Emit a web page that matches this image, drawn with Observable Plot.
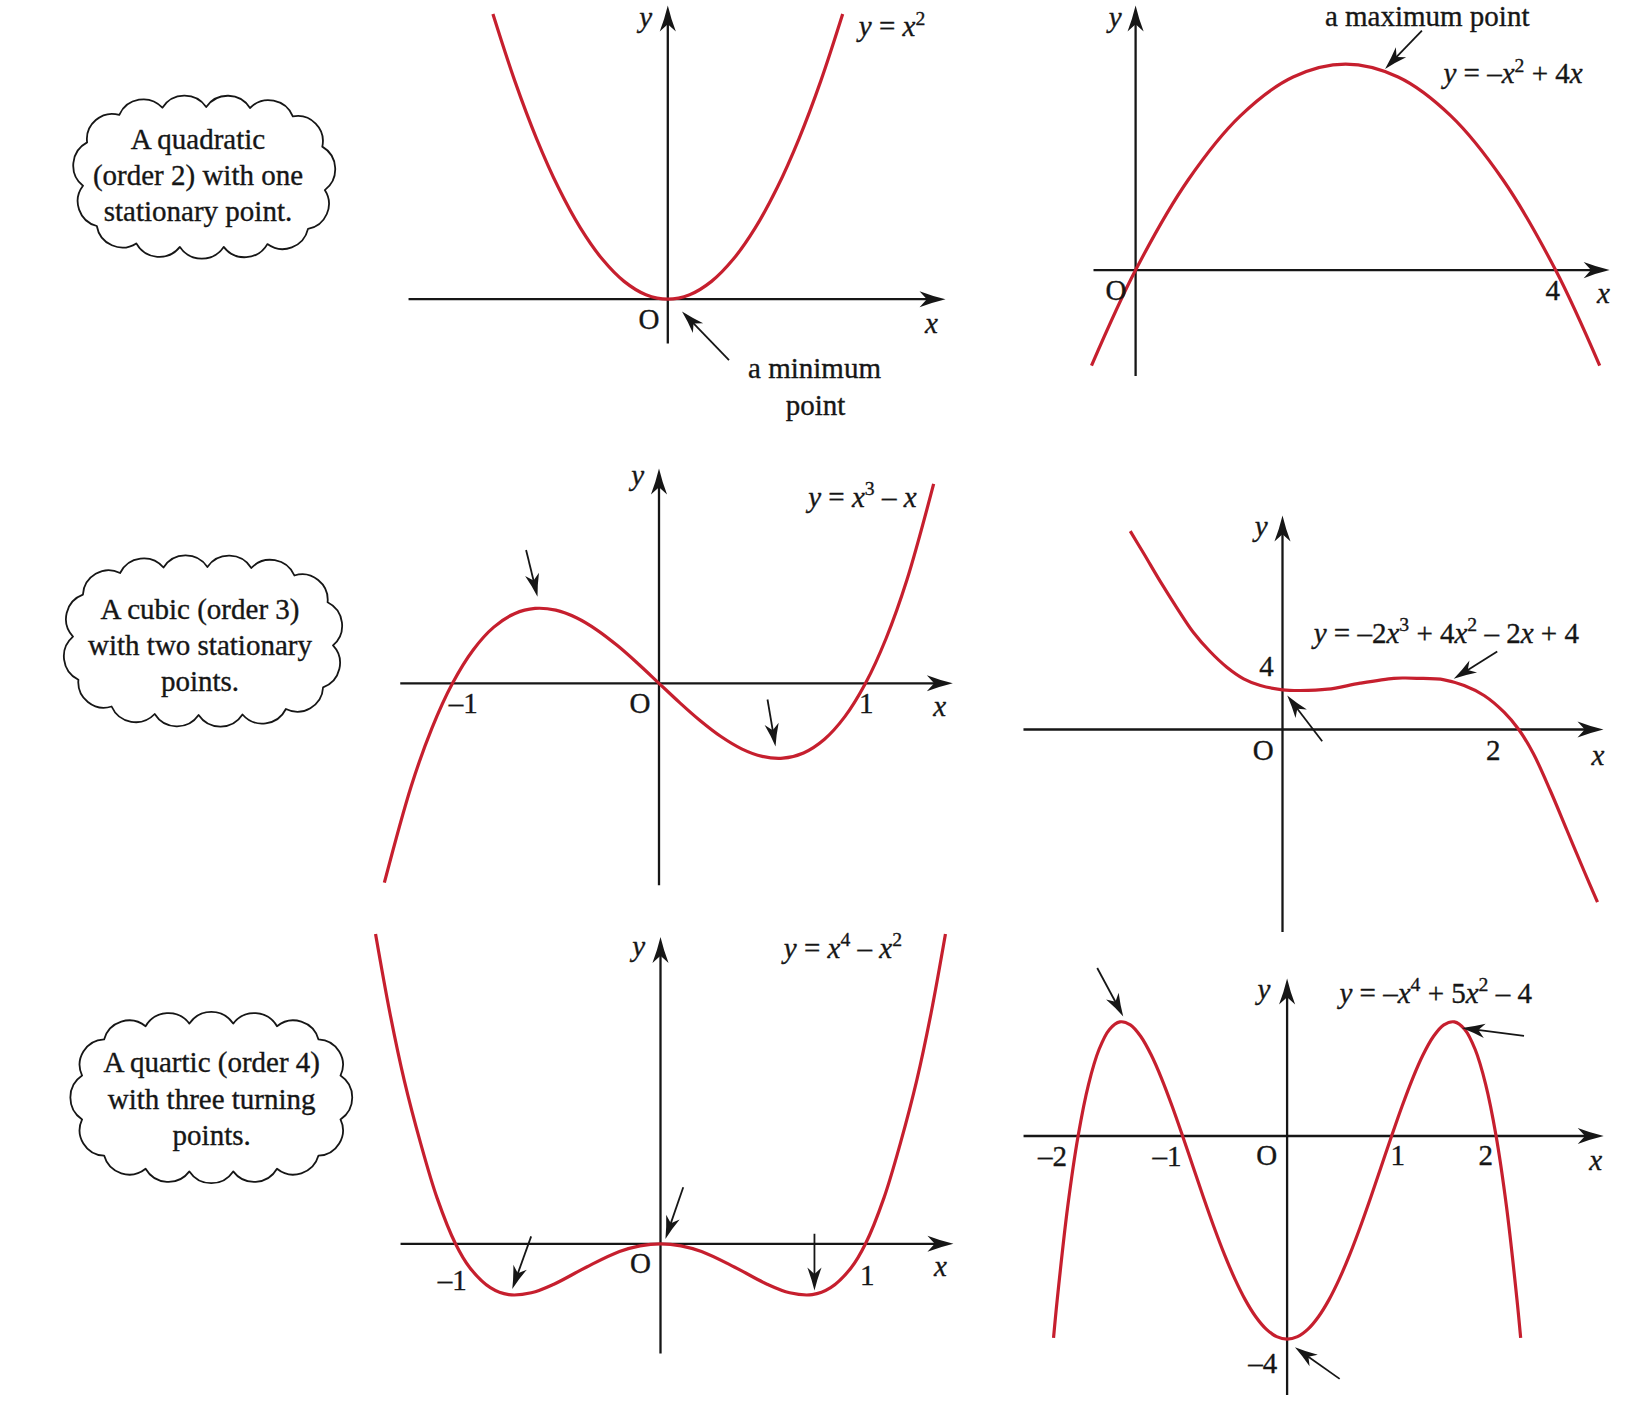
<!DOCTYPE html>
<html>
<head>
<meta charset="utf-8">
<script src="https://cdn.jsdelivr.net/npm/d3@7"></script>
<script src="https://cdn.jsdelivr.net/npm/@observablehq/plot@0.6"></script>
<style>
  html, body { margin: 0; padding: 0; background: #fff; }
  #page { position: relative; width: 1632px; height: 1404px; overflow: hidden; background: #fff; }
  .panel { position: absolute; }
</style>
</head>
<body>
<div id="page"></div>
<script>
// ================= DATA =================
// Panel 1: y = x^2
const p1CurveX = [-1.6,-1.4,-1.2,-1.0,-0.8,-0.6,-0.4,-0.2,0,0.2,0.4,0.6,0.8,1.0,1.2,1.4,1.6];
const p1CurveY = [2.56,1.96,1.44,1.0,0.64,0.36,0.16,0.04,0,0.04,0.16,0.36,0.64,1.0,1.44,1.96,2.56];
const p1AxisX = [-2.372, 2.541];
const p1AxisY = [-0.397, 2.636];
const p1LabelText = ["_y_", "_y_ = _x_^2^", "O", "_x_", "a minimum", "point"];
const p1LabelX = [-0.202, 2.052, -0.173, 2.411, 1.342, 1.351];
const p1LabelY = [2.530, 2.442, -0.180, -0.223, -0.621, -0.952];
const p1Pointers = [[0.560, -0.547, 0.130, -0.111]];

// Panel 2: y = -x^2 + 4x
const p2CurveX = [-0.42,0,0.5,1,1.5,2,2.5,3,3.5,4,4.42];
const p2CurveY = [-1.856,0,1.75,3,3.75,4,3.75,3,1.75,0,-1.856];
const p2AxisX = [-0.401, 4.515];
const p2AxisY = [-2.054, 5.138];
const p2LabelText = ["_y_", "a maximum point", "_y_ = –_x_^2^ + 4_x_", "O", "4", "_x_"];
const p2LabelX = [-0.194, 2.777, 3.595, -0.187, 3.972, 4.456];
const p2LabelY = [4.895, 4.920, 3.810, -0.402, -0.402, -0.466];
const p2Pointers = [[2.727, 4.652, 2.376, 3.907]];

// Panel 3: y = x^3 - x
const p3CurveX = [-1.33,-1.2,-1.1,-1.0,-0.9,-0.8,-0.7,-0.6,-0.5,-0.4,-0.3,-0.2,-0.1,0,0.1,0.2,0.3,0.4,0.5,0.6,0.7,0.8,0.9,1.0,1.1,1.2,1.33];
const p3CurveY = [-1.0226,-0.528,-0.231,0,0.171,0.288,0.357,0.384,0.375,0.336,0.273,0.192,0.099,0,-0.099,-0.192,-0.273,-0.336,-0.375,-0.384,-0.357,-0.288,-0.171,0,0.231,0.528,1.0226];
const p3AxisX = [-1.253, 1.423];
const p3AxisY = [-1.035, 1.1015];
const p3LabelText = ["_y_", "_y_ = _x_^3^ – _x_", "–1", "O", "1", "_x_"];
const p3LabelX = [-0.103, 0.985, -0.948, -0.092, 1.004, 1.359];
const p3LabelY = [1.064, 0.952, -0.103, -0.103, -0.103, -0.120];
const p3Pointers = [[-0.6436, 0.6836, -0.5884, 0.4441], [0.5254, -0.0831, 0.5642, -0.3241]];

// Panel 4: y = -2x^3 + 4x^2 - 2x + 4 (sketch)
const p4CurveX = [-1.45,-1.32,-1.16,-1.00,-0.85,-0.69,-0.53,-0.37,-0.21,0,0.17,0.43,0.74,1.06,1.17,1.28,1.54,1.73,1.92,2.11,2.25,2.39,2.55,2.71,2.87,3.00];
const p4CurveY = [19.83,17.57,14.73,12.07,9.73,7.80,6.23,5.07,4.40,3.97,3.90,4.03,4.63,5.12,5.15,5.12,4.97,4.40,3.40,1.73,0,-2.43,-6.10,-10.10,-14.10,-17.27];
const p4AxisX = [-2.467, 3.057];
const p4AxisY = [-20.25, 21.4];
const p4LabelText = ["_y_", "_y_ = –2_x_^3^ + 4_x_^2^ – 2_x_ + 4", "4", "O", "2", "_x_"];
const p4LabelX = [-0.203, 1.560, -0.152, -0.184, 2.007, 3.003];
const p4LabelY = [20.23, 9.57, 6.23, -2.10, -2.17, -2.60];
const p4Pointers = [[2.045, 7.80, 1.631, 5.07], [0.378, -1.17, 0.045, 3.40]];

// Panel 5: y = x^4 - x^2 (arms)
const p5CurveX = [-1.39,-1.32,-1.25,-1.17,-1.09,-1.00,-0.93,-0.83,-0.74,-0.63,-0.52,-0.36,-0.20,-0.10,0,0.10,0.20,0.36,0.52,0.63,0.74,0.83,0.93,1.00,1.09,1.17,1.25,1.32,1.39];
const p5CurveY = [1.511,1.126,0.797,0.490,0.224,0,-0.117,-0.214,-0.248,-0.239,-0.197,-0.113,-0.038,-0.010,0,-0.010,-0.038,-0.113,-0.197,-0.239,-0.248,-0.214,-0.117,0,0.224,0.490,0.797,1.126,1.511];
const p5AxisX = [-1.268, 1.429];
const p5AxisY = [-0.535, 1.496];
const p5LabelText = ["_y_", "_y_ = _x_^4^ – _x_^2^", "–1", "O", "1", "_x_"];
const p5LabelX = [-0.106, 0.890, -1.016, -0.098, 1.008, 1.366];
const p5LabelY = [1.450, 1.439, -0.179, -0.098, -0.155, -0.114];
const p5Pointers = [[-0.631, 0.036, -0.723, -0.220], [0.111, 0.276, 0.024, 0.024], [0.751, 0.049, 0.751, -0.228]];

// Panel 6: y = -x^4 + 5x^2 - 4
const p6CurveX = [-2.235,-2.2,-2.1,-2.0,-1.9,-1.8,-1.7,-1.6,-1.5,-1.4,-1.3,-1.2,-1.1,-1.0,-0.9,-0.8,-0.7,-0.6,-0.5,-0.4,-0.3,-0.2,-0.1,0,0.1,0.2,0.3,0.4,0.5,0.6,0.7,0.8,0.9,1.0,1.1,1.2,1.3,1.4,1.5,1.6,1.7,1.8,1.9,2.0,2.1,2.2,2.235];
const p6CurveY = [-3.976,-3.2256,-1.3981,0,1.0179,1.7024,2.0979,2.2464,2.1875,1.9584,1.5939,1.1264,0.5859,0,-0.6061,-1.2096,-1.7901,-2.3296,-2.8125,-3.2256,-3.5581,-3.8016,-3.9501,-4,-3.9501,-3.8016,-3.5581,-3.2256,-2.8125,-2.3296,-1.7901,-1.2096,-0.6061,0,0.5859,1.1264,1.5939,1.9584,2.1875,2.2464,2.0979,1.7024,1.0179,0,-1.3981,-3.2256,-3.976];
const p6AxisX = [-2.522, 3.03];
const p6AxisY = [-5.10, 3.10];
const p6LabelText = ["_y_", "_y_ = –_x_^4^ + 5_x_^2^ – 4", "–2", "–1", "O", "1", "2", "_x_", "–4"];
const p6LabelX = [-0.221, 1.422, -2.245, -1.149, -0.195, 1.060, 1.902, 2.953, -0.233];
const p6LabelY = [2.87, 2.805, -0.413, -0.413, -0.394, -0.394, -0.394, -0.48, -4.486];
const p6Pointers = [[-1.817, 3.307, -1.568, 2.354], [2.267, 1.970, 1.673, 2.128], [0.503, -4.781, 0.075, -4.157]];

// Cloud captions
const cloud1Lines = ["A quadratic", "(order 2) with one", "stationary point."];
const cloud2Lines = ["A cubic (order 3)", "with two stationary", "points."];
const cloud3Lines = ["A quartic (order 4)", "with three turning", "points."];

// ================= STYLE / LAYOUT =================
const INK = "#161616";
const RED = "#c61f2e";
const FONT = "'Liberation Serif', 'Times New Roman', serif";
const FS = 29;

const panels = [
  {left: 380, top: 0, width: 600, height: 420, ox: 667.3, oy: 298.7, ux: 109.3, uy: 111.4,
   cx: p1CurveX, cy: p1CurveY, ax: p1AxisX, ay: p1AxisY, lt: p1LabelText, lx: p1LabelX, ly: p1LabelY, ptr: p1Pointers},
  {left: 1000, top: 0, width: 632, height: 400, ox: 1135.1, oy: 269.6, ux: 105, uy: 51.5,
   cx: p2CurveX, cy: p2CurveY, ax: p2AxisX, ay: p2AxisY, lt: p2LabelText, lx: p2LabelX, ly: p2LabelY, ptr: p2Pointers},
  {left: 340, top: 440, width: 640, height: 470, ox: 658.5, oy: 682.8, ux: 206.5, uy: 195,
   cx: p3CurveX, cy: p3CurveY, ax: p3AxisX, ay: p3AxisY, lt: p3LabelText, lx: p3LabelX, ly: p3LabelY, ptr: p3Pointers},
  {left: 990, top: 470, width: 642, height: 480, ox: 1282, oy: 729, ux: 105, uy: 10,
   cx: p4CurveX, cy: p4CurveY, ax: p4AxisX, ay: p4AxisY, lt: p4LabelText, lx: p4LabelX, ly: p4LabelY, ptr: p4Pointers},
  {left: 340, top: 900, width: 640, height: 470, ox: 660, oy: 1243.3, ux: 205, uy: 205,
   cx: p5CurveX, cy: p5CurveY, ax: p5AxisX, ay: p5AxisY, lt: p5LabelText, lx: p5LabelX, ly: p5LabelY, ptr: p5Pointers},
  {left: 990, top: 940, width: 642, height: 464, ox: 1286.6, oy: 1135.5, ux: 104.5, uy: 50.8,
   cx: p6CurveX, cy: p6CurveY, ax: p6AxisX, ay: p6AxisY, lt: p6LabelText, lx: p6LabelX, ly: p6LabelY, ptr: p6Pointers}
];

const clouds = [
  {cx: 204, cy: 177, a: 134, b: 83, n: 15, phase: 0.3, tx: 198, ty: [140, 176, 211.5], lines: cloud1Lines},
  {cx: 203, cy: 641, a: 143, b: 87, n: 16, phase: 0.1, tx: 200, ty: [610, 646, 682], lines: cloud2Lines},
  {cx: 211.3, cy: 1097.5, a: 143, b: 87, n: 16, phase: 0.5, tx: 211.7, ty: [1063, 1100, 1136], lines: cloud3Lines}
];

// Barbed, filled arrowhead with its tip at the anchor point, pointing up before rotation
const arrowHead = {
  draw(ctx, size) {
    const L = Math.sqrt(size / Math.PI);
    const w = 0.31 * L;
    ctx.moveTo(0, 0);
    ctx.quadraticCurveTo(-0.12 * L, 0.5 * L, -w, L);
    ctx.lineTo(0, 0.72 * L);
    ctx.lineTo(w, L);
    ctx.quadraticCurveTo(0.12 * L, 0.5 * L, 0, 0);
    ctx.closePath();
  }
};

// Turn "_y_ = _x_^2^" markup into italic / superscript tspans
function richify(svg, fs) {
  svg.querySelectorAll("text").forEach(t => {
    const s = t.textContent;
    if (!/[_^]/.test(s)) return;
    while (t.firstChild) t.removeChild(t.firstChild);
    let ital = false, sup = false, buf = "", cur = 0;
    const flush = () => {
      if (!buf) return;
      const ts = document.createElementNS("http://www.w3.org/2000/svg", "tspan");
      ts.textContent = buf;
      if (ital) ts.setAttribute("font-style", "italic");
      if (sup) ts.setAttribute("font-size", (fs * 0.68).toFixed(1));
      const target = sup ? -0.40 * fs : 0;
      if (target !== cur) { ts.setAttribute("dy", (target - cur).toFixed(1)); cur = target; }
      t.appendChild(ts);
      buf = "";
    };
    for (const ch of s) {
      if (ch === "_") { flush(); ital = !ital; }
      else if (ch === "^") { flush(); sup = !sup; }
      else buf += ch;
    }
    flush();
  });
}

const page = document.getElementById("page");

// ---- clouds (decorative frames) ----
function cloudPath(c) {
  const M = 2000, p = 3.2, pts = [];
  for (let i = 0; i <= M; i++) {
    const t = (i / M) * 2 * Math.PI, co = Math.cos(t), si = Math.sin(t);
    pts.push([c.cx + (c.a - 13) * Math.sign(co) * Math.pow(Math.abs(co), 2 / p),
              c.cy + (c.b - 13) * Math.sign(si) * Math.pow(Math.abs(si), 2 / p)]);
  }
  const cum = [0];
  for (let i = 1; i <= M; i++) cum.push(cum[i - 1] + Math.hypot(pts[i][0] - pts[i - 1][0], pts[i][1] - pts[i - 1][1]));
  const P = cum[M], nodes = [];
  let j = 0;
  for (let k = 0; k < c.n; k++) {
    const L = ((k + c.phase) / c.n) * P;
    while (j < M - 1 && cum[j + 1] < L) j++;
    const f = (L - cum[j]) / (cum[j + 1] - cum[j] || 1);
    nodes.push([pts[j][0] + f * (pts[j + 1][0] - pts[j][0]), pts[j][1] + f * (pts[j + 1][1] - pts[j][1])]);
  }
  let d = `M${nodes[0][0].toFixed(1)},${nodes[0][1].toFixed(1)}`;
  for (let k = 0; k < c.n; k++) {
    const A = nodes[k], B = nodes[(k + 1) % c.n];
    const r = Math.hypot(B[0] - A[0], B[1] - A[1]) * 0.6;
    d += `A${r.toFixed(1)},${r.toFixed(1)} 0 0 1 ${B[0].toFixed(1)},${B[1].toFixed(1)}`;
  }
  return d + "Z";
}

const csvg = d3.select(page).append("svg")
  .attr("width", 1632).attr("height", 1404)
  .style("position", "absolute").style("left", "0px").style("top", "0px");
for (const c of clouds) {
  csvg.append("path").attr("d", cloudPath(c))
    .attr("fill", "#fff").attr("stroke", INK).attr("stroke-width", 1.8).attr("stroke-linejoin", "round");
  c.lines.forEach((line, i) => {
    csvg.append("text").attr("x", c.tx).attr("y", c.ty[i]).attr("dy", "0.32em")
      .attr("text-anchor", "middle").attr("font-family", FONT).attr("font-size", FS)
      .attr("fill", INK).attr("stroke", INK).attr("stroke-width", 0.35).text(line);
  });
}

// ---- graphs ----
for (const g of panels) {
  const {left, top, width, height, ox, oy, ux, uy} = g;
  const xd = [(left - ox) / ux, (left + width - ox) / ux];
  const yd = [(oy - top - height) / uy, (oy - top) / uy];

  const curve = g.cx.map((x, i) => ({x, y: g.cy[i]}));
  const labels = g.lt.map((t, i) => ({t, x: g.lx[i], y: g.ly[i]}));

  const AX = 26, PT = 23;
  const axisLines = [
    {x1: g.ax[0], y1: 0, x2: g.ax[1] - 0.6 * AX / ux, y2: 0},
    {x1: 0, y1: g.ay[0], x2: 0, y2: g.ay[1] - 0.6 * AX / uy}
  ];
  const axisHeads = [{x: g.ax[1], y: 0, a: 90}, {x: 0, y: g.ay[1], a: 0}];

  const shafts = [], heads = [];
  for (const [x1, y1, x2, y2] of g.ptr) {
    const dxs = (x2 - x1) * ux, dys = -(y2 - y1) * uy, len = Math.hypot(dxs, dys);
    const ang = Math.atan2(dxs, -dys) * 180 / Math.PI;
    shafts.push({x1, y1, x2: x2 - (dxs / len) * 0.6 * PT / ux, y2: y2 + (dys / len) * 0.6 * PT / uy});
    heads.push({x: x2, y: y2, a: ang});
  }

  const svg = Plot.plot({
    width, height,
    marginTop: 0, marginRight: 0, marginBottom: 0, marginLeft: 0,
    x: {type: "linear", domain: xd, axis: null},
    y: {type: "linear", domain: yd, axis: null},
    style: "overflow: visible; background: transparent; max-width: none;",
    marks: [
      Plot.link(axisLines, {x1: "x1", y1: "y1", x2: "x2", y2: "y2", stroke: INK, strokeWidth: 2.3}),
      Plot.dot(axisHeads, {x: "x", y: "y", rotate: "a", symbol: arrowHead, r: AX, fill: INK, stroke: "none"}),
      Plot.line(curve, {x: "x", y: "y", stroke: RED, strokeWidth: 3.2, curve: "catmull-rom", strokeLinecap: "butt"}),
      Plot.link(shafts, {x1: "x1", y1: "y1", x2: "x2", y2: "y2", stroke: INK, strokeWidth: 1.8}),
      Plot.dot(heads, {x: "x", y: "y", rotate: "a", symbol: arrowHead, r: PT, fill: INK, stroke: "none"}),
      Plot.text(labels, {x: "x", y: "y", text: "t", fontFamily: FONT, fontSize: FS, fill: INK,
                         stroke: INK, strokeWidth: 0.35, textAnchor: "middle"})
    ]
  });
  richify(svg, FS);
  const div = document.createElement("div");
  div.className = "panel";
  div.style.left = left + "px";
  div.style.top = top + "px";
  div.style.width = width + "px";
  div.style.height = height + "px";
  div.appendChild(svg);
  page.appendChild(div);
}
</script>
</body>
</html>
